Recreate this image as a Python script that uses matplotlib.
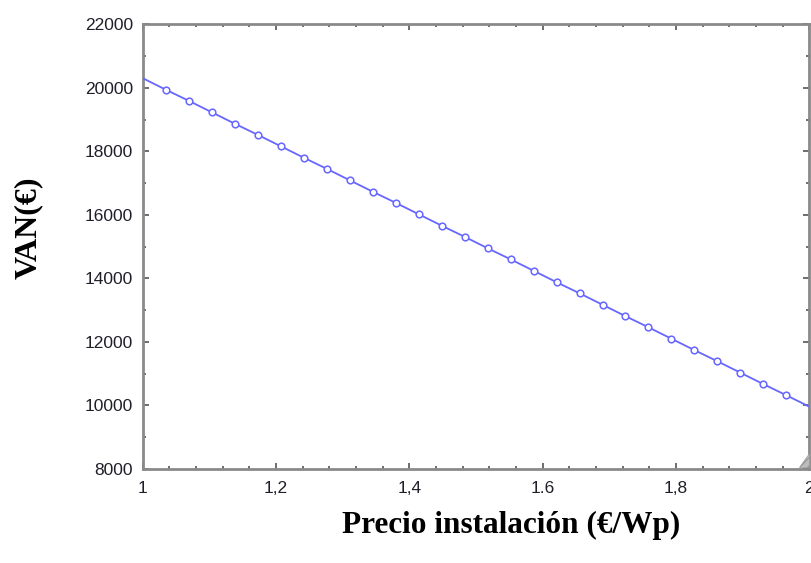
import matplotlib
matplotlib.use("Agg")
import matplotlib.pyplot as plt
from matplotlib.ticker import MultipleLocator, FixedLocator
from matplotlib.patches import Polygon

# Data
precio = [1.0, 1.0345, 1.0690, 1.1034, 1.1379, 1.1724, 1.2069, 1.2414, 1.2759,
          1.3103, 1.3448, 1.3793, 1.4138, 1.4483, 1.4828, 1.5172, 1.5517, 1.5862,
          1.6207, 1.6552, 1.6897, 1.7241, 1.7586, 1.7931, 1.8276, 1.8621, 1.8966,
          1.9310, 1.9655, 2.0]
van = [20300, 19940, 19590, 19230, 18870, 18520, 18160, 17800, 17450,
       17090, 16730, 16380, 16020, 15660, 15310, 14950, 14600, 14240,
       13880, 13530, 13170, 12810, 12460, 12100, 11740, 11390, 11030,
       10670, 10320, 9960]
x_ticks = [1.0, 1.2, 1.4, 1.6, 1.8, 2.0]
x_tick_labels = ["1", "1,2", "1,4", "1.6", "1,8", "2"]
y_ticks = [8000, 10000, 12000, 14000, 16000, 18000, 20000, 22000]

fig = plt.figure(figsize=(8.11, 5.63), dpi=100)
ax = fig.add_axes([0.176, 0.167, 0.822, 0.790])

blue = "#6767ff"
ax.plot(precio, van, color=blue, lw=1.3, zorder=3)
ax.plot(precio[1:-1], van[1:-1], linestyle="none", marker="o", markersize=4.8,
        markerfacecolor="white", markeredgecolor=blue, markeredgewidth=1.1, zorder=4)

ax.set_xlim(1.0, 2.0)
ax.set_ylim(8000, 22000)
ax.xaxis.set_major_locator(FixedLocator(x_ticks))
ax.set_xticklabels(x_tick_labels)
ax.xaxis.set_minor_locator(MultipleLocator(0.04))
ax.yaxis.set_major_locator(FixedLocator(y_ticks))
ax.yaxis.set_minor_locator(MultipleLocator(1000))

spine_col = "#8a8a8a"
for s in ax.spines.values():
    s.set_color(spine_col)
    s.set_linewidth(2.0)

ax.tick_params(which="both", direction="in", top=True, right=True, color="#555555",
               labelsize=12.5, labelcolor="#1f1f2a")
ax.tick_params(axis="x", pad=9)
ax.tick_params(axis="y", pad=7)
ax.tick_params(which="major", length=4, width=1.2)
ax.tick_params(which="minor", length=2.5, width=1.2)
for lab in ax.get_xticklabels() + ax.get_yticklabels():
    lab.set_family(["Liberation Sans", "DejaVu Sans"])

ax.add_patch(Polygon([[0.985, 0.005], [0.999, 0.005], [0.999, 0.035]], closed=True,
                     transform=ax.transAxes, facecolor="#bdbdbd", edgecolor="#999999",
                     lw=0.5, hatch="////", zorder=5, clip_on=False))

fig.text(0.630, 0.067, "Precio instalación (€/Wp)", ha="center", va="center",
         fontsize=22.5, fontweight="bold", family=["Liberation Serif", "DejaVu Serif"])
fig.text(0.035, 0.595, "VAN(€)", ha="center", va="center", rotation=90,
         fontsize=23, fontweight="bold", family=["Liberation Serif", "DejaVu Serif"])

fig.savefig("out.png", dpi=100)
